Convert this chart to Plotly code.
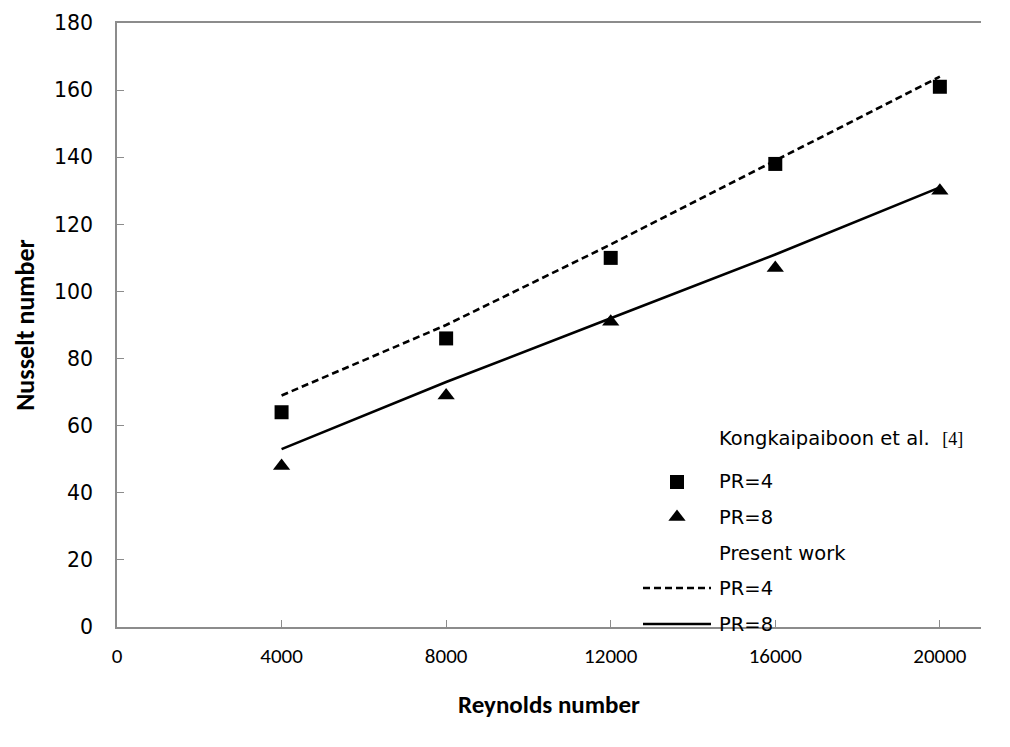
import plotly.graph_objects as go

# Nusselt number vs Reynolds number
reynolds = [4000, 8000, 12000, 16000, 20000]
ref_pr4 = [64, 86, 110, 138, 161]        # Kongkaipaiboon et al., PR=4
ref_pr8 = [48, 69, 91, 107, 130]         # Kongkaipaiboon et al., PR=8
present_pr4 = [69, 90, 114, 139, 164]    # present work, PR=4
present_pr8 = [53, 73, 92, 111, 131]     # present work, PR=8

x_ticks = [0, 4000, 8000, 12000, 16000, 20000]
y_ticks = [0, 20, 40, 60, 80, 100, 120, 140, 160, 180]

TITLE_FONT = "Carlito, Lato, sans-serif"
XTICK_FONT = "Carlito, Lato, sans-serif"
WIDE_FONT = "DejaVu Sans, Verdana, sans-serif"
AXIS_GREY = "#8c8c8c"

W, H = 1010, 747
L, R, T, B = 117, 29, 23, 120
PW, PH = W - L - R, H - T - B


def px_x(px):
    return (px - L) / PW


def px_y(py):
    return (H - B - py) / PH


fig = go.Figure()

fig.add_trace(go.Scatter(x=reynolds, y=present_pr4, mode="lines",
                         line=dict(color="black", width=2.6, dash="7px,4px"),
                         showlegend=False))
fig.add_trace(go.Scatter(x=reynolds, y=present_pr8, mode="lines",
                         line=dict(color="black", width=2.6),
                         showlegend=False))
fig.add_trace(go.Scatter(x=reynolds, y=ref_pr4, mode="markers",
                         marker=dict(symbol="square", size=14, color="black"),
                         showlegend=False))
fig.add_trace(go.Scatter(x=reynolds, y=ref_pr8, mode="markers",
                         marker=dict(symbol="triangle-up", size=15, color="black"),
                         showlegend=False))

# Legend keys drawn on an overlay axis spanning the plot area (0..1)
key_x0, key_x1, key_mid = px_x(643), px_x(711), px_x(677)
fig.add_trace(go.Scatter(x=[key_mid], y=[px_y(482)], mode="markers",
                         marker=dict(symbol="square", size=14, color="black"),
                         xaxis="x2", yaxis="y2", showlegend=False))
fig.add_trace(go.Scatter(x=[key_mid], y=[px_y(517)], mode="markers",
                         marker=dict(symbol="triangle-up", size=15, color="black"),
                         xaxis="x2", yaxis="y2", showlegend=False))
fig.add_trace(go.Scatter(x=[key_x0, key_x1], y=[px_y(588)] * 2, mode="lines",
                         line=dict(color="black", width=2.6, dash="7px,4px"),
                         xaxis="x2", yaxis="y2", showlegend=False))
fig.add_trace(go.Scatter(x=[key_x0, key_x1], y=[px_y(624)] * 2, mode="lines",
                         line=dict(color="black", width=2.6),
                         xaxis="x2", yaxis="y2", showlegend=False))

legend_rows = [
    ("Kongkaipaiboon et al.&nbsp;&nbsp;"
     "<span style=\"font-family:'Liberation Serif';font-size:18px\">[4]</span>", 438),
    ("PR=4", 482),
    ("PR=8", 517),
    ("Present work", 553),
    ("PR=4", 588),
    ("PR=8", 624),
]
annotations = [
    dict(text=txt, x=px_x(717), y=px_y(py), xref="paper", yref="paper",
         xanchor="left", yanchor="middle", showarrow=False,
         font=dict(family=WIDE_FONT, size=19.5, color="black"))
    for txt, py in legend_rows
]

fig.update_layout(
    width=W, height=H,
    margin=dict(l=L, r=R, t=T, b=B),
    paper_bgcolor="white", plot_bgcolor="white",
    font=dict(family=WIDE_FONT, size=20, color="black"),
    showlegend=False,
    annotations=annotations,
    xaxis=dict(
        range=[0, 21000], tickvals=x_ticks, ticktext=[str(v) for v in x_ticks],
        showgrid=False, zeroline=False, showline=True, linecolor=AXIS_GREY,
        linewidth=1.5, mirror=True, ticks="inside", ticklen=7, tickcolor=AXIS_GREY,
        tickwidth=1, ticklabelstandoff=9,
        tickfont=dict(family=XTICK_FONT, size=21, color="black"),
        title=dict(text="<b>Reynolds number</b>", standoff=28,
                   font=dict(family=TITLE_FONT, size=25, color="black")),
    ),
    yaxis=dict(
        range=[0, 180], tickvals=y_ticks, showgrid=False, zeroline=False,
        showline=True, linecolor=AXIS_GREY, linewidth=1.5, ticks="inside",
        ticklen=7, tickcolor=AXIS_GREY, tickwidth=1, ticklabelstandoff=18,
        tickfont=dict(family=WIDE_FONT, size=20.5, color="black"),
        title=dict(text="<b>Nusselt number</b>", standoff=12,
                   font=dict(family=TITLE_FONT, size=26, color="black")),
    ),
    xaxis2=dict(overlaying="x", range=[0, 1], visible=False, fixedrange=True),
    yaxis2=dict(overlaying="y", range=[0, 1], visible=False, fixedrange=True),
)

fig.write_html("out.html")
